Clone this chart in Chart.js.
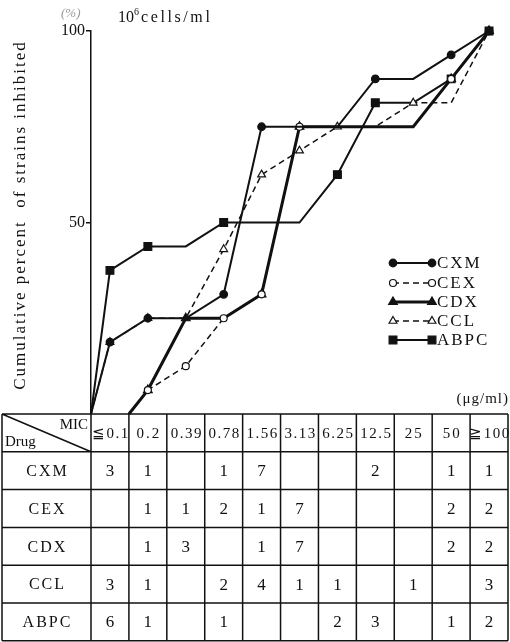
<!DOCTYPE html>
<html>
<head>
<meta charset="utf-8">
<script src="https://cdn.jsdelivr.net/npm/chart.js@4"></script>
<style>
  html, body { margin: 0; padding: 0; background: #fff; }
  #wrap { width: 510px; height: 642px; }
</style>
</head>
<body>
<div id="wrap"><canvas id="myChart" width="510" height="642"></canvas></div>
<script>
// MIC columns (µg/ml)
const mics = ["≦0.1", "0.2", "0.39", "0.78", "1.56", "3.13", "6.25", "12.5", "25", "50", "≧100"];
const drugs = ["CXM", "CEX", "CDX", "CCL", "ABPC"];

// number of strains per MIC (table)
const cntCXM = [3, 1, 0, 1, 7, 0, 0, 2, 0, 1, 1];
const cntCEX = [0, 1, 1, 2, 1, 7, 0, 0, 0, 2, 2];
const cntCDX = [0, 1, 3, 0, 1, 7, 0, 0, 0, 2, 2];
const cntCCL = [3, 1, 0, 2, 4, 1, 1, 0, 1, 0, 3];
const cntABPC = [6, 1, 0, 1, 0, 0, 2, 3, 0, 1, 2];

// cumulative percent inhibited
const pctCXM = [18.75, 25, 25, 31.25, 75, 75, 75, 87.5, 87.5, 93.75, 100];
const pctCEX = [0, 6.25, 12.5, 25, 31.25, 75, 75, 75, 75, 87.5, 100];
const pctCDX = [0, 6.25, 25, 25, 31.25, 75, 75, 75, 75, 87.5, 100];
const pctCCL = [18.75, 25, 25, 43, 62.5, 68.75, 75, 75, 81.25, 81.25, 100];
const pctABPC = [37.5, 43.75, 43.75, 50, 50, 50, 62.5, 81.25, 81.25, 87.5, 100];

// column border where each curve leaves 0 %
const startCol = [0, 1, 1, 0, 0];

const yTicks = [0, 50, 100];

const SERIF = '"Liberation Serif", "DejaVu Serif", serif';
const INK = "#111";

// build {x,y} points : start at 0 on the column border, then at column centres
function points(pct, start) {
  const pts = [{ x: start, y: 0 }];
  for (let i = start; i < pct.length; i++) {
    pts.push({ x: i + 0.5, y: pct[i] });
  }
  return pts;
}
function radii(cnt, start, r) {
  const out = [0];
  for (let i = start; i < cnt.length; i++) out.push(cnt[i] > 0 ? r : 0);
  return out;
}

const styles = [
  { style: "circle", r: 3.8, fill: INK, dash: [], width: 2 },
  { style: "circle", r: 3.5, fill: "#fff", dash: [6, 4], width: 1.5 },
  { style: "triangle", r: 5, fill: INK, dash: [], width: 3 },
  { style: "triangle", r: 4.5, fill: "#fff", dash: [6, 4], width: 1.5 },
  { style: "rect", r: 5.5, fill: INK, dash: [], width: 2 },
];
const pcts = [pctCXM, pctCEX, pctCDX, pctCCL, pctABPC];
const cnts = [cntCXM, cntCEX, cntCDX, cntCCL, cntABPC];

const datasets = drugs.map((d, k) => ({
  label: d,
  data: points(pcts[k], startCol[k]),
  borderColor: INK,
  borderWidth: styles[k].width,
  borderDash: styles[k].dash,
  pointStyle: styles[k].style,
  pointRadius: radii(cnts[k], startCol[k], styles[k].r),
  pointBackgroundColor: styles[k].fill,
  pointBorderColor: INK,
  pointBorderWidth: 1.2,
  tension: 0,
  clip: false,
}));

// legend marker drawing
function marker(ctx, st, x, y) {
  ctx.save();
  ctx.setLineDash([]);
  ctx.fillStyle = st.fill;
  ctx.strokeStyle = INK;
  ctx.lineWidth = 1.2;
  ctx.beginPath();
  if (st.style === "circle") {
    ctx.arc(x, y, st.r, 0, Math.PI * 2);
  } else if (st.style === "triangle") {
    const r = st.r;
    ctx.moveTo(x, y - r);
    ctx.lineTo(x + r * 0.87, y + r * 0.5);
    ctx.lineTo(x - r * 0.87, y + r * 0.5);
    ctx.closePath();
  } else {
    const s = st.r * Math.SQRT1_2;
    ctx.rect(x - s, y - s, s * 2, s * 2);
  }
  ctx.fill();
  ctx.stroke();
  ctx.restore();
}

const extras = {
  id: "extras",
  afterDraw(chart) {
    const ctx = chart.ctx;
    const xs = chart.scales.x;
    ctx.save();
    ctx.fillStyle = INK;
    ctx.strokeStyle = INK;

    // top labels
    ctx.font = "italic 13px " + SERIF;
    ctx.fillStyle = "#999";
    ctx.textBaseline = "alphabetic";
    ctx.fillText("(%)", 61, 17);
    ctx.fillStyle = INK;
    ctx.font = "16px " + SERIF;
    ctx.fillText("10", 118, 22);
    ctx.font = "10px " + SERIF;
    ctx.fillText("6", 134, 15);
    ctx.font = "16px " + SERIF;
    ctx.letterSpacing = "2.6px";
    ctx.fillText("cells/ml", 141, 22);

    // y title
    ctx.save();
    ctx.translate(21, 215);
    ctx.rotate(-Math.PI / 2);
    ctx.textAlign = "center";
    ctx.textBaseline = "middle";
    ctx.font = "17px " + SERIF;
    ctx.letterSpacing = "2px";
    ctx.fillText("Cumulative percent  of strains inhibited", 0, 0);
    ctx.restore();

    // legend
    const lx0 = 393, lx1 = 432;
    const ly = [263, 283, 302, 321, 340];
    drugs.forEach((d, k) => {
      const st = styles[k];
      ctx.save();
      ctx.lineWidth = st.width;
      ctx.setLineDash(st.dash);
      ctx.beginPath();
      ctx.moveTo(lx0, ly[k]);
      ctx.lineTo(lx1, ly[k]);
      ctx.stroke();
      ctx.restore();
      marker(ctx, st, lx0, ly[k]);
      marker(ctx, st, lx1, ly[k]);
      ctx.font = "17px " + SERIF;
      ctx.letterSpacing = "2px";
      ctx.textBaseline = "middle";
      ctx.textAlign = "left";
      ctx.fillText(d, 437, ly[k] + 1);
    });

    // unit
    ctx.letterSpacing = "1px";
    ctx.font = "15px " + SERIF;
    ctx.textAlign = "right";
    ctx.textBaseline = "alphabetic";
    ctx.fillText("(\u03bcg/ml)", 509, 403);

    // table
    const top = chart.chartArea.bottom;
    const rowH = 37.8;
    const left = 2;
    const colX = [];
    for (let i = 0; i <= mics.length; i++) colX.push(xs.getPixelForValue(i));
    const right = colX[colX.length - 1];
    const nRows = drugs.length + 1;
    ctx.lineWidth = 1.5;
    ctx.setLineDash([]);
    ctx.beginPath();
    for (let r = 0; r <= nRows; r++) {
      const y = top + r * rowH;
      ctx.moveTo(left, y);
      ctx.lineTo(right, y);
    }
    ctx.moveTo(left, top);
    ctx.lineTo(left, top + nRows * rowH);
    colX.forEach((x) => {
      ctx.moveTo(x, top);
      ctx.lineTo(x, top + nRows * rowH);
    });
    // diagonal in header
    ctx.moveTo(left, top);
    ctx.lineTo(colX[0], top + rowH);
    ctx.stroke();

    ctx.letterSpacing = "0px";
    ctx.font = "15px " + SERIF;
    ctx.textAlign = "right";
    ctx.textBaseline = "middle";
    ctx.fillText("MIC", colX[0] - 3, top + 11);
    ctx.textAlign = "left";
    ctx.fillText("Drug", left + 3, top + rowH - 10);

    // header labels
    ctx.textAlign = "center";
    ctx.font = "15px " + SERIF;
    mics.forEach((m, i) => {
      ctx.letterSpacing = m.length > 3 ? "1.5px" : "2px";
      ctx.fillText(m, (colX[i] + colX[i + 1]) / 2 + 1, top + rowH / 2 + 1);
    });

    // rows
    drugs.forEach((d, k) => {
      const yc = top + (k + 1.5) * rowH + 1;
      ctx.font = "16px " + SERIF;
      ctx.letterSpacing = "2px";
      ctx.fillText(d, (left + colX[0]) / 2 + 1, yc);
      ctx.font = "17px " + SERIF;
      ctx.letterSpacing = "0px";
      cnts[k].forEach((c, i) => {
        if (c > 0) ctx.fillText(String(c), (colX[i] + colX[i + 1]) / 2, yc);
      });
    });
    ctx.restore();
  },
};

new Chart(document.getElementById("myChart").getContext("2d"), {
  type: "line",
  data: { datasets: datasets },
  options: {
    responsive: false,
    animation: false,
    devicePixelRatio: 1,
    layout: { autoPadding: false, padding: { top: 31, left: 0, right: 2, bottom: 228 } },
    plugins: { legend: { display: false }, tooltip: { enabled: false } },
    scales: {
      x: { type: "linear", min: 0, max: mics.length, display: false },
      y: {
        min: 0,
        max: 100,
        afterFit: (s) => { s.width = 91; },
        afterBuildTicks: (s) => { s.ticks = yTicks.map((v) => ({ value: v })); },
        ticks: {
          padding: 1,
          color: INK,
          font: { family: SERIF, size: 16 },
          callback: (v) => (v === 0 ? "" : v),
        },
        grid: {
          drawOnChartArea: false,
          tickLength: 5,
          color: INK,
          lineWidth: (c) => (c.tick && c.tick.value === 0 ? 0 : 1.5),
        },
        border: { display: true, color: INK, width: 1.5 },
      },
    },
  },
  plugins: [extras],
});
</script>
</body>
</html>
